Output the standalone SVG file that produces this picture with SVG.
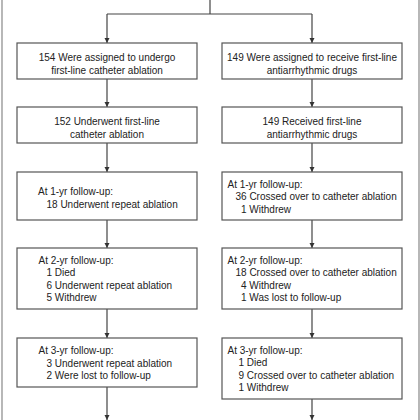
<svg xmlns="http://www.w3.org/2000/svg" width="420" height="420" viewBox="0 0 420 420">
<defs>
<marker id="ah" viewBox="0 0 10 10" refX="10" refY="5" markerWidth="5" markerHeight="7" markerUnits="userSpaceOnUse" orient="auto">
<path d="M0,0 L10,5 L0,10 Z" fill="#333"/>
</marker>
<style>
.bx{fill:#fff;stroke:#555;stroke-width:1.2}
.ln{fill:none;stroke:#444;stroke-width:1.2}
.fr{fill:none;stroke:#888;stroke-width:1.2}
text{font-family:"Liberation Sans",Arial,sans-serif;font-size:10px;fill:#222}
.c{text-anchor:middle}
</style>
</defs>
<rect width="420" height="420" fill="#fff"/>
<g id="frame">
<line class="fr" x1="2" y1="0" x2="2" y2="420"/>
<line class="fr" x1="419" y1="0" x2="419" y2="420"/>
</g>
<g id="connectors">
<polyline class="ln" points="210,0 210,14"/>
<polyline class="ln" points="107,14 312,14"/>
<line class="ln" x1="107" y1="14" x2="107" y2="43" marker-end="url(#ah)"/>
<line class="ln" x1="312" y1="14" x2="312" y2="43" marker-end="url(#ah)"/>
<line class="ln" x1="107" y1="79" x2="107" y2="107" marker-end="url(#ah)"/>
<line class="ln" x1="312" y1="79" x2="312" y2="107" marker-end="url(#ah)"/>
<line class="ln" x1="107" y1="143" x2="107" y2="172" marker-end="url(#ah)"/>
<line class="ln" x1="312" y1="143" x2="312" y2="172" marker-end="url(#ah)"/>
<line class="ln" x1="107" y1="220" x2="107" y2="248" marker-end="url(#ah)"/>
<line class="ln" x1="312" y1="220" x2="312" y2="248" marker-end="url(#ah)"/>
<line class="ln" x1="107" y1="309" x2="107" y2="338" marker-end="url(#ah)"/>
<line class="ln" x1="312" y1="309" x2="312" y2="338" marker-end="url(#ah)"/>
<line class="ln" x1="107" y1="387" x2="107" y2="420" marker-end="url(#ah)"/>
<line class="ln" x1="312" y1="399" x2="312" y2="420" marker-end="url(#ah)"/>
</g>
<g id="L1">
<rect class="bx" x="17" y="43" width="180" height="36"/>
<text class="c" x="107" y="61">154 Were assigned to undergo</text>
<text class="c" x="107" y="73.5">first-line catheter ablation</text>
</g>
<g id="R1">
<rect class="bx" x="222" y="43" width="180" height="36"/>
<text class="c" x="312" y="61">149 Were assigned to receive first-line</text>
<text class="c" x="312" y="73.5">antiarrhythmic drugs</text>
</g>
<g id="L2">
<rect class="bx" x="17" y="107" width="180" height="36"/>
<text class="c" x="107" y="125">152 Underwent first-line</text>
<text class="c" x="107" y="137.5">catheter ablation</text>
</g>
<g id="R2">
<rect class="bx" x="222" y="107" width="180" height="36"/>
<text class="c" x="312" y="125">149 Received first-line</text>
<text class="c" x="312" y="137.5">antiarrhythmic drugs</text>
</g>
<g id="L3">
<rect class="bx" x="17" y="172" width="180" height="48"/>
<text x="38" y="195">At 1-yr follow-up:</text>
<text x="46.5" y="207.5">18 Underwent repeat ablation</text>
</g>
<g id="R3">
<rect class="bx" x="222" y="172" width="180" height="48"/>
<text x="227.5" y="187.5">At 1-yr follow-up:</text>
<text x="235.5" y="200">36 Crossed over to catheter ablation</text>
<text x="241" y="212.5">1 Withdrew</text>
</g>
<g id="L4">
<rect class="bx" x="17" y="248" width="180" height="61"/>
<text x="38.5" y="263.5">At 2-yr follow-up:</text>
<text x="46.5" y="276">1 Died</text>
<text x="46.5" y="288.5">6 Underwent repeat ablation</text>
<text x="46.5" y="301">5 Withdrew</text>
</g>
<g id="R4">
<rect class="bx" x="222" y="248" width="180" height="61"/>
<text x="227.5" y="263.5">At 2-yr follow-up:</text>
<text x="235.5" y="276">18 Crossed over to catheter ablation</text>
<text x="241" y="288.5">4 Withdrew</text>
<text x="241" y="301">1 Was lost to follow-up</text>
</g>
<g id="L5">
<rect class="bx" x="17" y="338" width="180" height="49"/>
<text x="38.5" y="354">At 3-yr follow-up:</text>
<text x="46.5" y="366.5">3 Underwent repeat ablation</text>
<text x="46.5" y="379">2 Were lost to follow-up</text>
</g>
<g id="R5">
<rect class="bx" x="222" y="338" width="180" height="61"/>
<text x="227.5" y="353.5">At 3-yr follow-up:</text>
<text x="238.5" y="366">1 Died</text>
<text x="238.5" y="378.5">9 Crossed over to catheter ablation</text>
<text x="238.5" y="391">1 Withdrew</text>
</g>
</svg>
